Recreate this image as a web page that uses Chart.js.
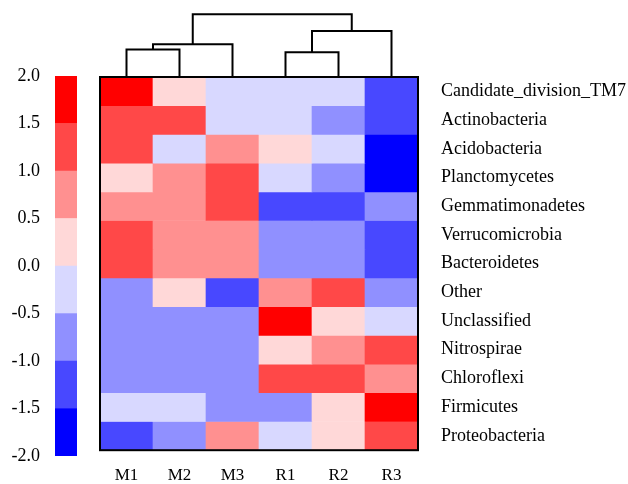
<!DOCTYPE html>
<html>
<head>
<meta charset="utf-8">
<script src="https://cdn.jsdelivr.net/npm/chart.js@4/dist/chart.umd.min.js"></script>
<style>
  html, body { margin: 0; padding: 0; background: #fff; }
  #wrap { position: relative; width: 628px; height: 484px; }
  #wrap canvas { position: absolute; left: 0; top: 0; }
</style>
</head>
<body>
<div id="wrap">
  <canvas id="heat" width="628" height="484"></canvas>
  <canvas id="scaleBar" width="100" height="484"></canvas>
</div>
<script>
// samples (columns) and taxa (rows)
const samples = ["M1", "M2", "M3", "R1", "R2", "R3"];
const taxa = ["Candidate_division_TM7", "Actinobacteria", "Acidobacteria", "Planctomycetes",
  "Gemmatimonadetes", "Verrucomicrobia", "Bacteroidetes", "Other", "Unclassified",
  "Nitrospirae", "Chloroflexi", "Firmicutes", "Proteobacteria"];

// z-scores (one array per taxon, in sample order)
const tm7 = [1.75, 0.25, -0.25, -0.25, -0.25, -1.25];
const actino = [1.25, 1.25, -0.25, -0.25, -0.75, -1.25];
const acido = [1.25, -0.25, 0.75, 0.25, -0.25, -1.75];
const plancto = [0.25, 0.75, 1.25, -0.25, -0.75, -1.75];
const gemma = [0.75, 0.75, 1.25, -1.25, -1.25, -0.75];
const verruco = [1.25, 0.75, 0.75, -0.75, -0.75, -1.25];
const bactero = [1.25, 0.75, 0.75, -0.75, -0.75, -1.25];
const other = [-0.75, 0.25, -1.25, 0.75, 1.25, -0.75];
const unclass = [-0.75, -0.75, -0.75, 1.75, 0.25, -0.25];
const nitro = [-0.75, -0.75, -0.75, 0.25, 0.75, 1.25];
const chloro = [-0.75, -0.75, -0.75, 1.25, 1.25, 0.75];
const firmi = [-0.25, -0.25, -0.75, -0.75, 0.25, 1.75];
const proteo = [-1.25, -0.75, 0.75, -0.25, 0.25, 1.25];
const rows = [tm7, actino, acido, plancto, gemma, verruco, bactero, other, unclass, nitro, chloro, firmi, proteo];

// colour key
const keyTicks = [-2.0, -1.5, -1.0, -0.5, 0.0, 0.5, 1.0, 1.5, 2.0];
const keyColors = ["#0000ff", "#4848ff", "#9090ff", "#d8d8ff", "#ffd8d8", "#ff9090", "#ff4848", "#ff0000"];

// column dendrogram: [left node, right node, height]; leaves are 0..5, merges make 6, 7, ...
const merges = [[0, 1, 2.74], [6, 2, 3.27], [3, 4, 2.47], [8, 5, 4.6], [7, 9, 6.27]];

const serif = "'Liberation Serif', 'Times New Roman', serif";

function colorFor(v) {
  let i = Math.floor((v - keyTicks[0]) / 0.5);
  i = Math.max(0, Math.min(keyColors.length - 1, i));
  return keyColors[i];
}

// dendrogram + frame
const dendroPlugin = {
  id: "dendro",
  afterDatasetsDraw(chart) {
    const ctx = chart.ctx;
    const area = chart.chartArea;
    const xs = chart.scales.x;
    const unit = 10;
    const nodes = samples.map((s, i) => ({ x: xs.getPixelForValue(i), y: area.top }));
    ctx.save();
    ctx.strokeStyle = "#000";
    ctx.lineWidth = 2;
    merges.forEach(m => {
      const a = nodes[m[0]], b = nodes[m[1]];
      const y = area.top - m[2] * unit;
      ctx.beginPath();
      ctx.moveTo(a.x, a.y);
      ctx.lineTo(a.x, y);
      ctx.lineTo(b.x, y);
      ctx.lineTo(b.x, b.y);
      ctx.stroke();
      nodes.push({ x: (a.x + b.x) / 2, y: y });
    });
    ctx.strokeRect(area.left, area.top, area.right - area.left, area.bottom - area.top);
    ctx.restore();
  }
};

new Chart(document.getElementById("heat"), {
  type: "bar",
  data: {
    labels: samples,
    datasets: rows.map((vals, r) => ({
      label: taxa[r],
      data: vals.map(() => [r, r + 1]),
      backgroundColor: vals.map(colorFor),
      borderWidth: 0,
      grouped: false,
      barPercentage: 1,
      categoryPercentage: 1
    }))
  },
  options: {
    responsive: false,
    animation: false,
    layout: { padding: { left: 100, top: 77, right: 0, bottom: 0 } },
    plugins: { legend: { display: false }, tooltip: { enabled: false } },
    scales: {
      x: {
        grid: { display: false },
        border: { display: false },
        ticks: { color: "#000", font: { family: serif, size: 17 }, padding: 7, maxRotation: 0 },
        afterFit(s) { s.height = 30; }
      },
      y: {
        position: "right",
        reverse: true,
        min: 0,
        max: taxa.length,
        grid: { display: false, drawTicks: false },
        border: { display: false },
        afterBuildTicks(s) { s.ticks = taxa.map((t, i) => ({ value: i + 0.5 })); },
        ticks: {
          color: "#000",
          font: { family: serif, size: 18 },
          padding: 23,
          autoSkip: false,
          callback: v => taxa[Math.floor(v)]
        },
        afterFit(s) { s.width = 210; }
      }
    }
  },
  plugins: [dendroPlugin]
});

// colour key on the left
new Chart(document.getElementById("scaleBar"), {
  type: "bar",
  data: {
    labels: [""],
    datasets: keyColors.map((c, i) => ({
      data: [[keyTicks[i], keyTicks[i + 1]]],
      backgroundColor: c,
      borderWidth: 0,
      grouped: false,
      barPercentage: 1,
      categoryPercentage: 1
    }))
  },
  options: {
    responsive: false,
    animation: false,
    layout: { padding: { left: 0, top: 76, right: 23, bottom: 0 } },
    plugins: { legend: { display: false }, tooltip: { enabled: false } },
    scales: {
      x: { display: true, grid: { display: false }, border: { display: false },
           ticks: { display: false }, afterFit(s) { s.height = 28; } },
      y: {
        min: -2, max: 2,
        grid: { display: false, drawTicks: false },
        border: { display: false },
        afterBuildTicks(s) { s.ticks = keyTicks.map(v => ({ value: v })); },
        ticks: { color: "#000", font: { family: serif, size: 18 }, padding: 15,
                 callback: v => v.toFixed(1) },
        afterFit(s) { s.width = 55; }
      }
    }
  }
});
</script>
</body>
</html>
